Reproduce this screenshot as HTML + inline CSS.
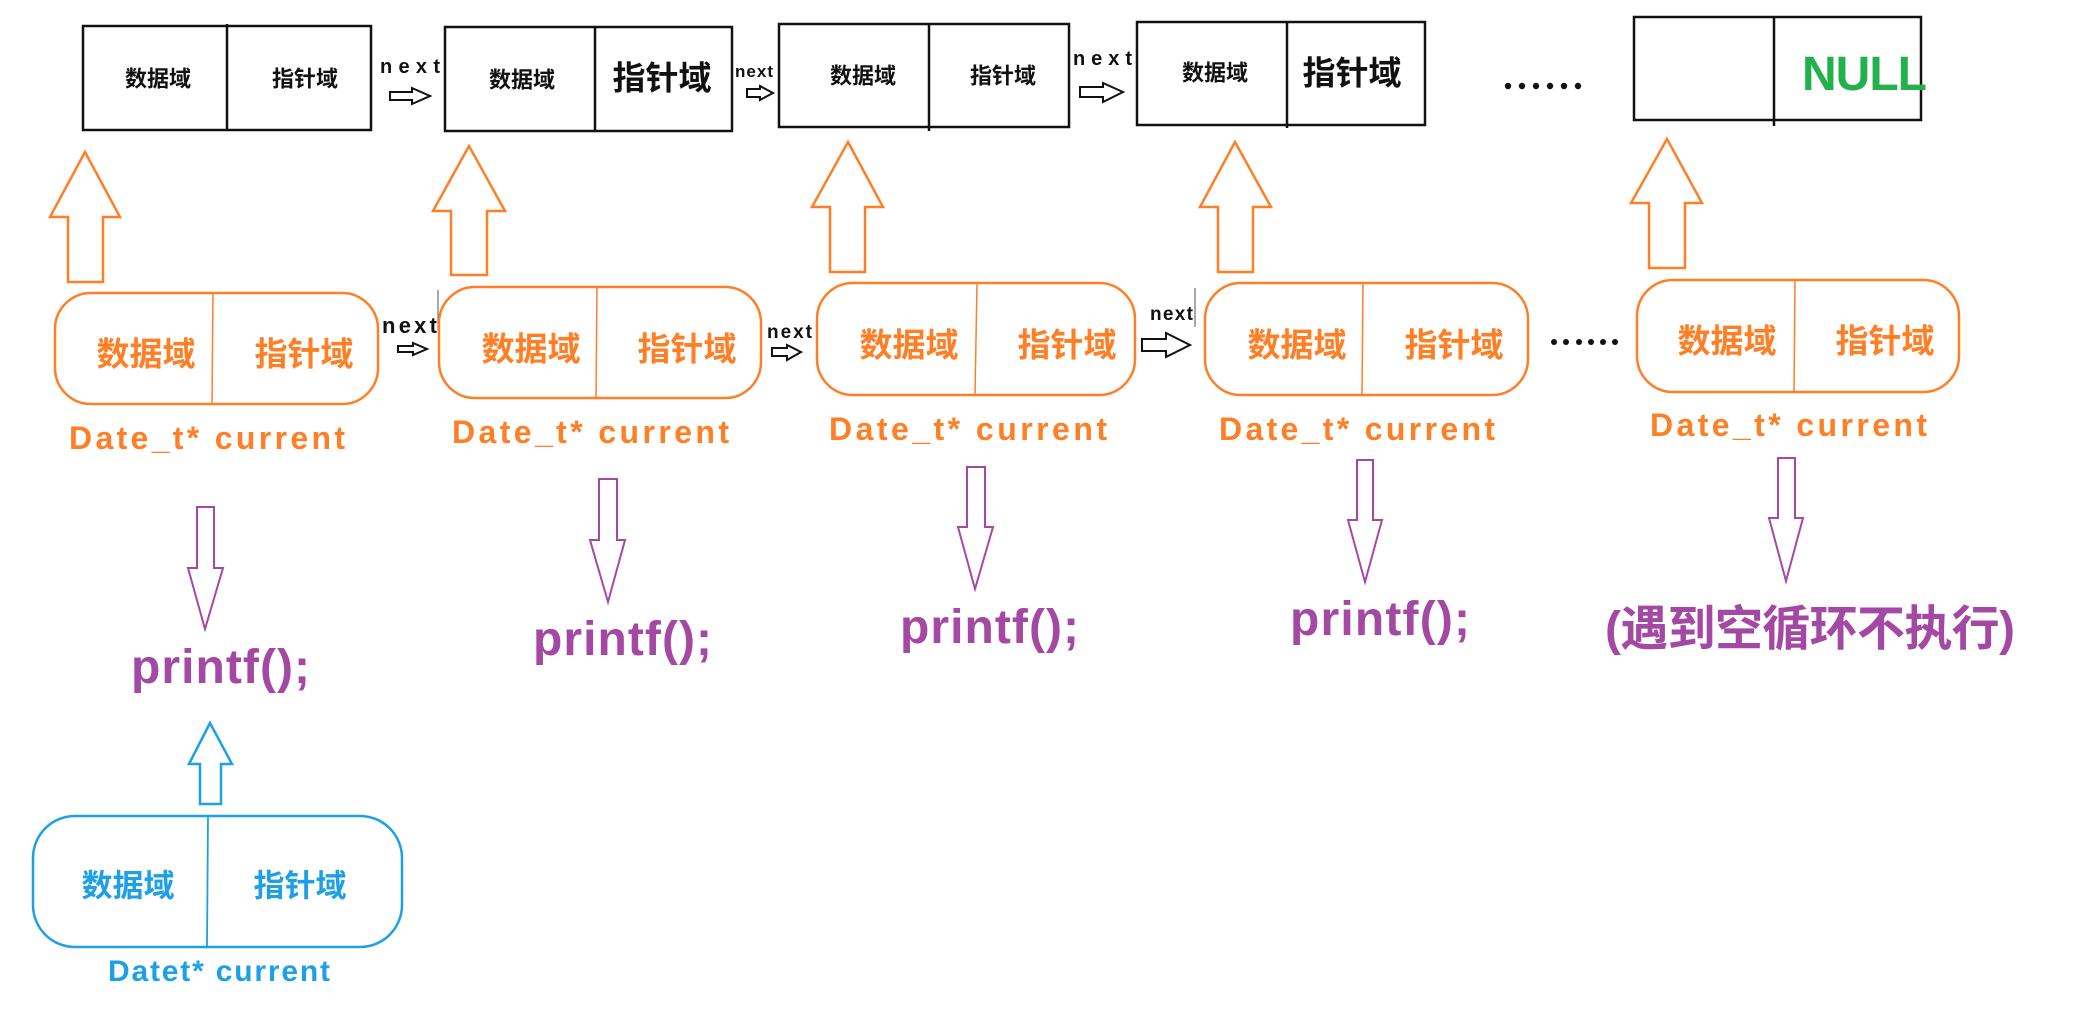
<!DOCTYPE html>
<html><head><meta charset="utf-8"><style>
html,body{margin:0;padding:0;background:#fff;}
svg{display:block;}
text{font-family:"Liberation Sans","Noto Sans CJK SC",sans-serif;font-weight:bold;}
</style></head><body>
<svg width="2081" height="1027" viewBox="0 0 2081 1027" xmlns="http://www.w3.org/2000/svg">
<rect width="2081" height="1027" fill="#fff"/>
<!-- top boxes -->
<g fill="none" stroke="#111" stroke-width="2.5">
<rect x="83" y="26" width="288" height="104"/><line x1="227" y1="24" x2="227" y2="130"/>
<rect x="445" y="27" width="287" height="104"/><line x1="595" y1="27" x2="595" y2="131"/>
<rect x="779" y="24" width="290" height="103"/><line x1="929" y1="24" x2="929" y2="131"/>
<rect x="1137" y="22" width="288" height="103"/><line x1="1287" y1="22" x2="1287" y2="128"/>
<rect x="1634" y="17" width="287" height="103"/><line x1="1774" y1="17" x2="1774" y2="126"/>
</g>
<g fill="#111" text-anchor="middle" dominant-baseline="central">
<text x="158" y="79" font-size="22">数据域</text><text x="305" y="79" font-size="22">指针域</text>
<text x="522" y="80" font-size="22">数据域</text><text x="662" y="78" font-size="33">指针域</text>
<text x="863" y="76" font-size="22">数据域</text><text x="1003" y="76" font-size="22">指针域</text>
<text x="1215" y="73" font-size="22">数据域</text><text x="1352" y="73" font-size="33">指针域</text>
</g>
<text x="1802" y="90" font-size="48" fill="#22b14c" textLength="125">NULL</text>
<!-- next labels top -->
<g fill="#111">
<text x="380" y="73" font-size="20" textLength="60">next</text>
<text x="735" y="77" font-size="17" textLength="38">next</text>
<text x="1073" y="65" font-size="20" textLength="59">next</text>
<text x="382" y="333" font-size="22" textLength="55">next</text>
<text x="767" y="338" font-size="19" textLength="45">next</text>
<text x="1150" y="320" font-size="19" textLength="43">next</text>
</g>
<line x1="1195" y1="288" x2="1195" y2="327" stroke="#555" stroke-width="1"/>
<line x1="438" y1="290" x2="438" y2="330" stroke="#555" stroke-width="1"/>
<g fill="#fff" stroke="#111" stroke-width="2">
<polygon points="390,92 412,92 412,88 430,96 412,104 412,100 390,100"/>
<polygon points="747,89 760,89 760,86 773,93 760,100 760,97 747,97"/>
<polygon points="1080,87 1103,87 1103,83 1123,92 1103,102 1103,97 1080,97"/>
<polygon points="398,346 413,346 413,343 427,349 413,355 413,352 398,352"/>
<polygon points="772,348 787,348 787,345 801,352 787,360 787,356 772,356"/>
<polygon points="1142,339 1166,339 1166,333 1190,345 1166,357 1166,351 1142,351"/>
</g>
<!-- dots -->
<g fill="#111">
<circle cx="1508" cy="86" r="3.2"/><circle cx="1522" cy="86" r="3.2"/><circle cx="1536" cy="86" r="3.2"/><circle cx="1550" cy="86" r="3.2"/><circle cx="1564" cy="86" r="3.2"/><circle cx="1578" cy="86" r="3.2"/>
<circle cx="1554" cy="342" r="3"/><circle cx="1566" cy="342" r="3"/><circle cx="1579" cy="342" r="3"/><circle cx="1591" cy="342" r="3"/><circle cx="1603" cy="342" r="3"/><circle cx="1615" cy="342" r="3"/>
</g>
<!-- orange up arrows -->
<g fill="#fff" stroke="#ff7f27" stroke-width="2.5">
<polygon points="85,152 120,217 103,217 103,282 68,282 68,217 50,217"/>
<polygon points="469,146 505,211 487,211 487,275 451,275 451,211 433,211"/>
<polygon points="848,142 883,207 865,207 865,272 830,272 830,207 812,207"/>
<polygon points="1235,142 1271,207 1253,207 1253,272 1218,272 1218,207 1200,207"/>
<polygon points="1667,139 1702,203 1685,203 1685,268 1649,268 1649,203 1631,203"/>
</g>
<!-- orange rounded boxes -->
<g fill="none" stroke="#ff7f27" stroke-width="2.5">
<rect x="55" y="293" width="323" height="111" rx="36" ry="36"/><line x1="213" y1="293" x2="212" y2="404" stroke-width="1.5"/>
<rect x="439" y="287" width="322" height="111" rx="36" ry="36"/><line x1="597" y1="287" x2="596" y2="398" stroke-width="1.5"/>
<rect x="817" y="283" width="318" height="112" rx="36" ry="36"/><line x1="977" y1="283" x2="975" y2="395" stroke-width="1.5"/>
<rect x="1205" y="283" width="323" height="112" rx="36" ry="36"/><line x1="1363" y1="283" x2="1362" y2="395" stroke-width="1.5"/>
<rect x="1637" y="280" width="322" height="112" rx="36" ry="36"/><line x1="1795" y1="280" x2="1794" y2="392" stroke-width="1.5"/>
</g>
<g fill="#ff7f27" text-anchor="middle" dominant-baseline="central" font-size="33">
<text x="146" y="354">数据域</text><text x="304" y="354">指针域</text>
<text x="531" y="349">数据域</text><text x="687" y="349">指针域</text>
<text x="909" y="345">数据域</text><text x="1067" y="345">指针域</text>
<text x="1297" y="345">数据域</text><text x="1454" y="345">指针域</text>
<text x="1727" y="341">数据域</text><text x="1885" y="341">指针域</text>
</g>
<g fill="#ff7f27" font-size="32">
<text x="69" y="449" textLength="276">Date_t* current</text>
<text x="452" y="443" textLength="277">Date_t* current</text>
<text x="829" y="440" textLength="278">Date_t* current</text>
<text x="1219" y="440" textLength="276">Date_t* current</text>
<text x="1650" y="436" textLength="277">Date_t* current</text>
</g>
<!-- purple down arrows -->
<g fill="#fff" stroke="#a349a4" stroke-width="2">
<polygon points="197,507 214,507 214,568 223,568 205,629 188,568 197,568"/>
<polygon points="599,479 617,479 617,540 625,540 608,602 590,540 599,540"/>
<polygon points="967,467 985,467 985,527 993,527 975,589 958,527 967,527"/>
<polygon points="1357,460 1373,460 1373,520 1382,520 1365,582 1348,520 1357,520"/>
<polygon points="1778,458 1795,458 1795,518 1803,518 1786,581 1769,518 1778,518"/>
</g>
<g fill="#a349a4" font-size="48">
<text x="131" y="683" textLength="179">printf();</text>
<text x="533" y="655" textLength="179">printf();</text>
<text x="900" y="643" textLength="179">printf();</text>
<text x="1290" y="635" textLength="180">printf();</text>
<text x="1605" y="645" textLength="410">(遇到空循环不执行)</text>
</g>
<!-- blue -->
<polygon points="210,723 232,764 221,764 221,804 200,804 200,764 189,764" fill="#fff" stroke="#1ea0e6" stroke-width="2.5"/>
<rect x="33" y="816" width="369" height="131" rx="42" ry="42" fill="none" stroke="#1ea0e6" stroke-width="2.5"/>
<line x1="208" y1="816" x2="207" y2="947" stroke="#1ea0e6" stroke-width="1.8"/>
<g fill="#1ea0e6" text-anchor="middle" dominant-baseline="central" font-size="31">
<text x="128" y="886">数据域</text><text x="300" y="886">指针域</text>
</g>
<text x="108" y="981" font-size="30" fill="#1ea0e6" textLength="222">Datet* current</text>
</svg>
</body></html>
